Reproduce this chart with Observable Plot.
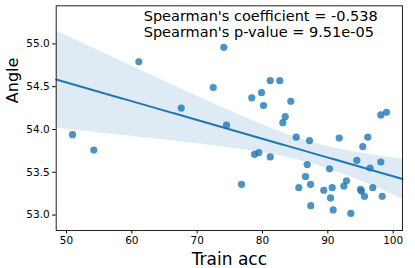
<!DOCTYPE html>
<html><head><meta charset="utf-8">
<script src="https://cdn.jsdelivr.net/npm/d3@7"></script>
<script src="https://cdn.jsdelivr.net/npm/@observablehq/plot@0.6"></script>
<style>body{margin:0;background:#fff}</style>
</head><body><div id="chart"></div>
<script>
const trainAcc = [50.92,54.18,61.07,67.56,72.46,74.08,74.49,76.79,78.36,78.78,79.43,79.85,80.15,81.18,81.18,82.65,83.11,83.48,84.33,85.16,85.56,86.58,86.84,87.20,87.35,87.39,89.38,90.26,90.41,90.67,90.82,91.74,92.45,92.86,93.52,94.44,95.00,95.15,95.35,95.61,96.12,96.46,96.88,98.11,98.32,98.11,98.98];
const angle = [53.94,53.76,54.79,54.25,54.49,54.96,54.05,53.36,54.37,53.71,53.73,54.43,54.28,54.57,53.68,54.57,54.08,54.15,54.33,53.91,53.32,53.45,53.59,53.87,53.36,53.11,53.29,53.54,53.20,53.32,53.06,53.90,53.34,53.40,53.02,53.64,53.30,53.28,53.80,53.22,53.91,53.55,53.32,53.62,53.22,54.17,54.20];
const xTicks = [50,60,70,80,90,100];
const yTicks = [53.0,53.5,54.0,54.5,55.0];
const annotationLines = ["Spearman's coefficient = -0.538", "Spearman's p-value = 9.51e-05"];
const xLabel = "Train acc";
const yLabel = "Angle";
const xDomain = [48.42, 101.43];
const yDomain = [52.82, 55.445];

const pts = trainAcc.map((x, i) => ({x, y: angle[i]}));

// OLS fit with 95% confidence band (HC1 robust standard errors)
const n = pts.length;
const mx = d3.mean(trainAcc), my = d3.mean(angle);
const sxx = d3.sum(trainAcc, x => (x - mx) ** 2);
const sxy = d3.sum(pts, p => (p.x - mx) * (p.y - my));
const b = sxy / sxx, a = my - b * mx;
let w0 = 0, w1 = 0, w2 = 0;
pts.forEach(p => {
  const d = p.x - mx, e = p.y - (a + b * p.x);
  const w = e * e * n / (n - 2);
  w0 += w; w1 += w * d; w2 += w * d * d;
});
const V00 = w0 / (n * n), V01 = w1 / (n * sxx), V11 = w2 / (sxx * sxx);
const t = 2.014;
const fit = d3.range(0, 101).map(k => {
  const x = xDomain[0] + (xDomain[1] - xDomain[0]) * k / 100;
  const y = a + b * x;
  const d = x - mx;
  const se = Math.sqrt(V00 + 2 * d * V01 + d * d * V11);
  return {x, y, lo: y - t * se, hi: y + t * se};
});

const blue = "#1f77b4";
const chart = Plot.plot({
  width: 415, height: 268,
  marginLeft: 55.7, marginRight: 13, marginTop: 5.3, marginBottom: 38,
  style: {fontFamily: "DejaVu Sans", color: "#000", background: "#fff"},
  x: {domain: xDomain},
  y: {domain: yDomain},
  marks: [
    Plot.areaY(fit, {x: "x", y1: "lo", y2: "hi", fill: blue, fillOpacity: 0.15}),
    Plot.dot(pts, {x: "x", y: "y", r: 3.6, fill: blue, fillOpacity: 0.8, stroke: "none"}),
    Plot.line(fit, {x: "x", y: "y", stroke: blue, strokeWidth: 2}),
    Plot.frame({stroke: "#222", strokeWidth: 1}),
    Plot.axisX({ticks: xTicks, tickSize: 3.5, tickPadding: 3, fontSize: 10.5, label: null, tickFormat: d3.format("d")}),
    Plot.axisY({ticks: yTicks, tickSize: 3.5, tickPadding: 3, fontSize: 10.5, label: null, tickFormat: d3.format(".1f")}),
    Plot.text([xLabel], {frameAnchor: "bottom", dy: 29, fontSize: 17, text: d => d, lineAnchor: "middle"}),
    Plot.text([yLabel], {frameAnchor: "left", dx: -43.7, dy: -15, rotate: -90, fontSize: 16, text: d => d, lineAnchor: "middle"}),
    Plot.text([annotationLines.join("\n")], {frameAnchor: "top-left", dx: 87.5, dy: 3.5, textAnchor: "start", lineAnchor: "top", fontSize: 14.5, lineHeight: 1.1, text: d => d})
  ]
});
document.getElementById("chart").appendChild(chart);
</script>
</body></html>
